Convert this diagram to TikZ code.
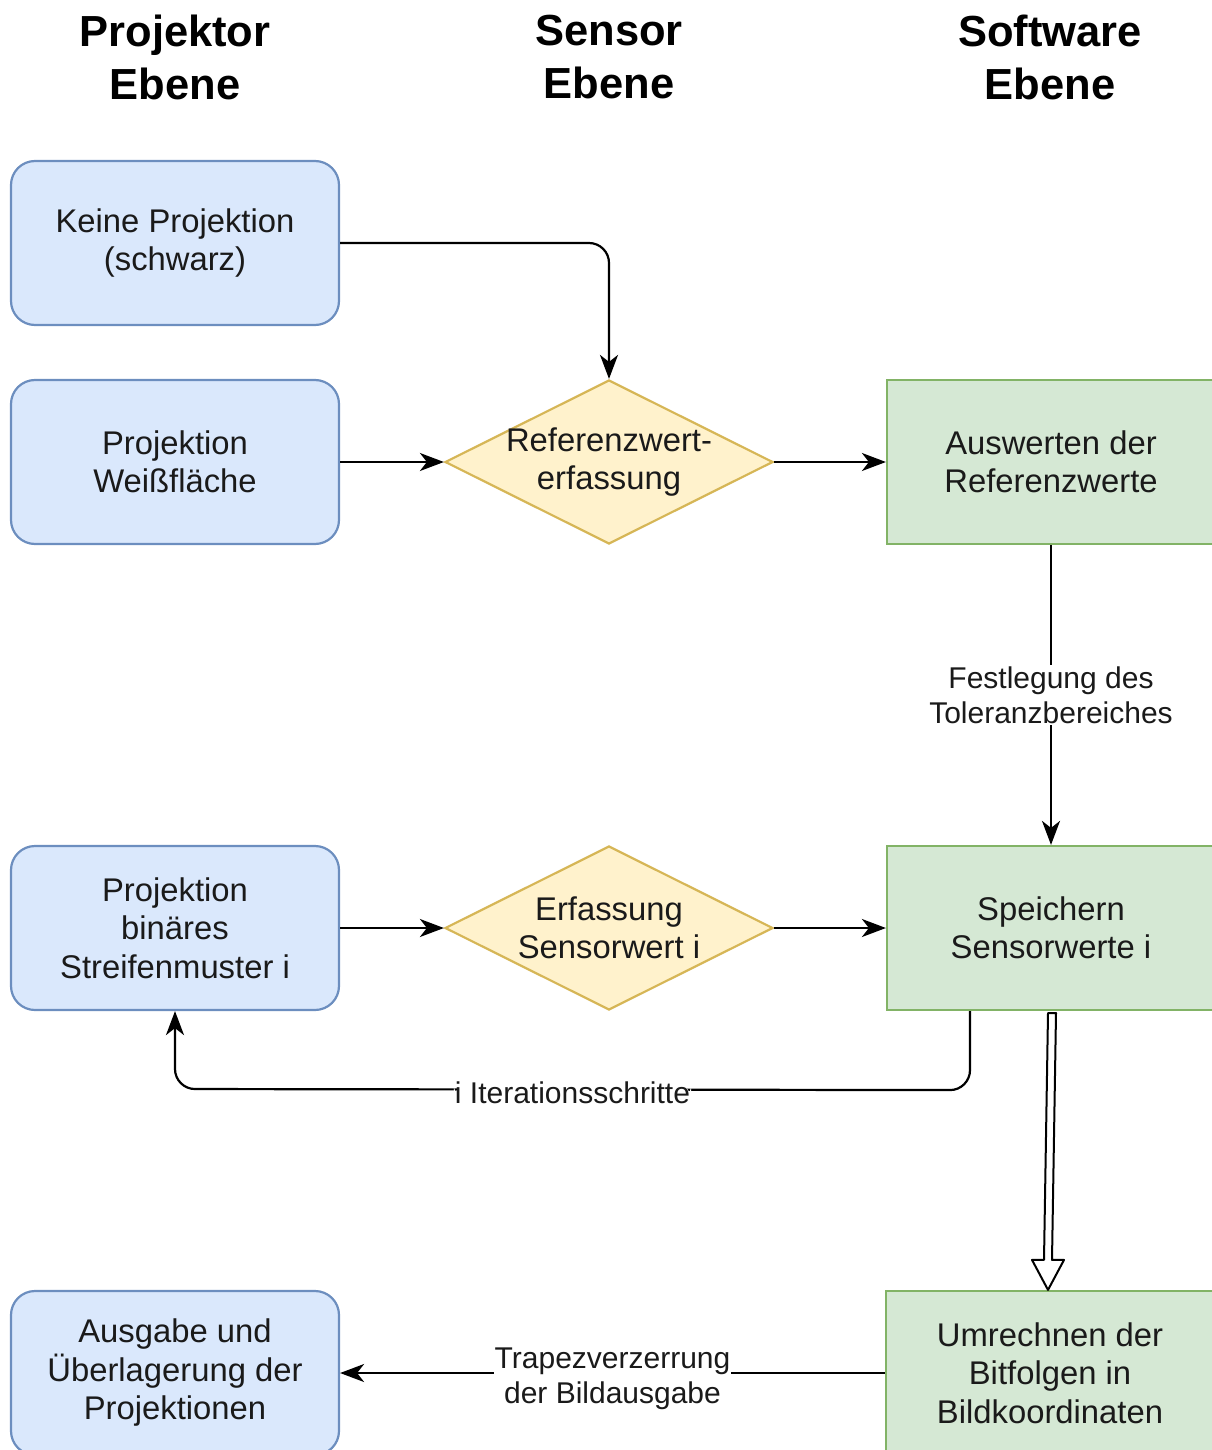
\documentclass[tikz,border=0pt]{standalone}
\usepackage{fontspec}
\setmainfont{Liberation Sans}
\usetikzlibrary{shapes.geometric,arrows.meta,calc}
\definecolor{projFill}{HTML}{DAE8FC}
\definecolor{projStroke}{HTML}{6C8EBF}
\definecolor{sensFill}{HTML}{FFF2CC}
\definecolor{sensStroke}{HTML}{D6B656}
\definecolor{softFill}{HTML}{D5E8D4}
\definecolor{softStroke}{HTML}{82B366}
\definecolor{txt}{HTML}{1A1A1A}
\newcommand\bodyfnt{\fontsize{32.8}{38.5}\selectfont}
\newcommand\lblfnt{\fontsize{30}{35}\selectfont}
\newcommand\ttlfnt{\fontsize{43.5}{53}\selectfont\bfseries}
\begin{document}
\begin{tikzpicture}[x=1pt,y=-1pt,
  every node/.style={text=txt},
  proj/.style={rectangle, rounded corners=24pt, draw=projStroke, fill=projFill, line width=2.2pt,
    minimum width=328pt, minimum height=164pt, align=center, font=\bodyfnt, inner sep=0pt},
  soft/.style={rectangle, draw=softStroke, fill=softFill, line width=2.2pt,
    minimum width=328pt, minimum height=164pt, align=center, font=\bodyfnt, inner sep=0pt},
  sens/.style={diamond, draw=sensStroke, fill=sensFill, line width=2.2pt,
    minimum width=328pt, minimum height=164pt, inner sep=0pt},
  senstext/.style={align=center, font=\bodyfnt, text=txt},
  ttl/.style={align=center, font=\ttlfnt, text=black},
  conn/.style={line width=2.2pt, -{Stealth[length=24pt, width=18pt, inset=7pt]}},
  lbl/.style={fill=white, align=center, font=\lblfnt, inner sep=1pt}
]
\useasboundingbox (0,0) rectangle (1211,1450);

% titles
\node[ttl] (t1) at (175,57) {Projektor\\Ebene};
\node[ttl] (t2) at (609,57) {Sensor\\Ebene};
\node[ttl] (t3) at (1050,57) {Software\\Ebene};

% projector column
\node[proj] (p1) at (175,243) {Keine Projektion\\(schwarz)};
\node[proj] (p2) at (175,462) {Projektion\\Weißfläche};
\node[proj] (p3) at (175,928) {Projektion\\binäres\\Streifenmuster i};
\node[proj] (p4) at (175,1373) {Ausgabe und\\Überlagerung der\\Projektionen};

% sensor column
\node[sens, label={[senstext]center:Referenzwert-\\erfassung}] (d1) at (609,462) {};
\node[sens, label={[senstext]center:Erfassung\\Sensorwert i}] (d2) at (609,928) {};

% software column
\node[soft] (g1) at (1051,462) {Auswerten der\\Referenzwerte};
\node[soft] (g2) at (1051,928) {Speichern\\Sensorwerte i};
\node[soft] (g3) at (1050,1373) {Umrechnen der\\Bitfolgen in\\Bildkoordinaten};

% connectors
\draw[conn, rounded corners=20pt] (p1.east) -| (d1.north);
\draw[conn] (p2.east) -- (d1.west);
\draw[conn] (d1.east) -- (g1.west);
\draw[conn] (g1.south) -- node[lbl]{Festlegung des\\Toleranzbereiches} (g2.north);
\draw[conn] (p3.east) -- (d2.west);
\draw[conn] (d2.east) -- (g2.west);
\draw[conn, rounded corners=20pt] ([xshift=-81pt]g2.south) -- ++(0,79)
  -- node[lbl, yshift=-3pt]{i Iterationsschritte} (p3.south |- 0,1089) -- (p3.south);
\draw[conn] (g3.west) -- node[lbl, yshift=-6pt]{Trapezverzerrung\\der Bildausgabe} (p4.east);

% hollow block arrow
\coordinate (ha) at ($(g2.south)+(1,2)$);
\coordinate (hb) at ($(g3.north)+(-2,0)$);
\draw[line width=2pt, fill=white, line join=round]
  ($(ha)+(-4,0)$) -- ($(hb)+(-4,-30)$) -- ($(hb)+(-16,-30)$) -- (hb)
  -- ($(hb)+(16,-30)$) -- ($(hb)+(4,-30)$) -- ($(ha)+(4,0)$) -- cycle;
\end{tikzpicture}
\end{document}
